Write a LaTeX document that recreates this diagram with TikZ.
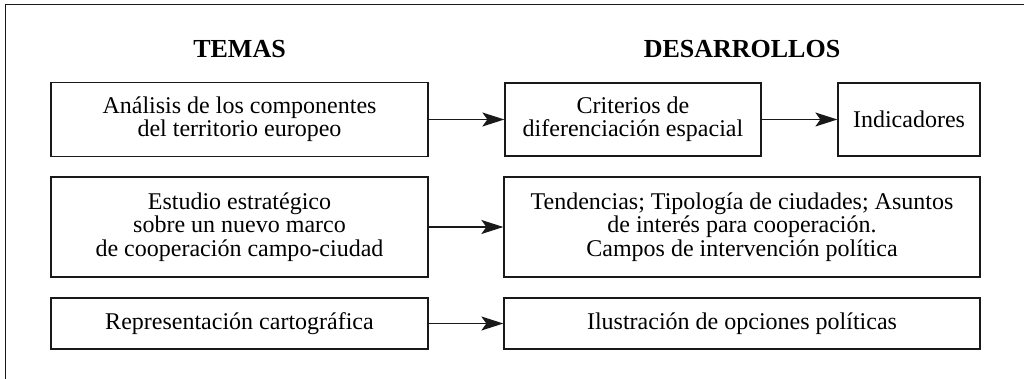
\documentclass[tikz,border=0pt]{standalone}
\usepackage{fontspec}
\setmainfont{Liberation Serif}
\usetikzlibrary{arrows.meta}
\tikzset{
  box/.style={draw=black!90, line width=1.3pt, inner sep=0pt, align=center,
    font=\fontsize{24}{23.3}\selectfont},
  head/.style={font=\fontsize{26}{28}\selectfont\bfseries, inner sep=0pt, anchor=base},
  arr/.style={draw=black!90, line width=1.3pt, -{Stealth[length=22pt,width=14pt,inset=5pt]}},
  frame/.style={draw=black!90, line width=1.3pt}
}
\begin{document}
\begin{tikzpicture}[x=1pt,y=-1pt]
\useasboundingbox (0,0) rectangle (1024,379);
\coordinate (fbl) at (5.5,379);
\coordinate (ftl) at (5.5,4.5);
\coordinate (ftr) at (1024,4.5);
\draw[frame] (fbl) -- (ftl) -- (ftr);

\node[head] (temas) at (239.5,58) {TEMAS};
\node[head] (desa) at (742,58) {DESARROLLOS};

\node[box, minimum width=377pt, minimum height=74pt] (A1) at (239.5,119.5)
  {Análisis de los componentes\\del territorio europeo};
\node[box, minimum width=256pt, minimum height=73pt] (B1) at (633,119.5)
  {Criterios de\\diferenciación espacial};
\node[box, minimum width=142pt, minimum height=73pt] (C1) at (909,119.5)
  {Indicadores};

\node[box, minimum width=377pt, minimum height=100pt] (A2) at (239.5,227)
  {Estudio estratégico\\sobre un nuevo marco\\de cooperación campo-ciudad};
\node[box, minimum width=476pt, minimum height=100pt] (B2) at (742,227)
  {Tendencias; Tipología de ciudades; Asuntos\\de interés para cooperación.\\Campos de intervención política};

\node[box, minimum width=377pt, minimum height=51pt] (A3) at (239.5,323.5)
  {Representación cartográfica};
\node[box, minimum width=476pt, minimum height=51pt] (B3) at (742,323.5)
  {Ilustración de opciones políticas};

\draw[arr] (A1) -- (B1);
\draw[arr] (B1) -- (C1);
\draw[arr] (A2) -- (B2);
\draw[arr] (A3) -- (B3);
\end{tikzpicture}
\end{document}
